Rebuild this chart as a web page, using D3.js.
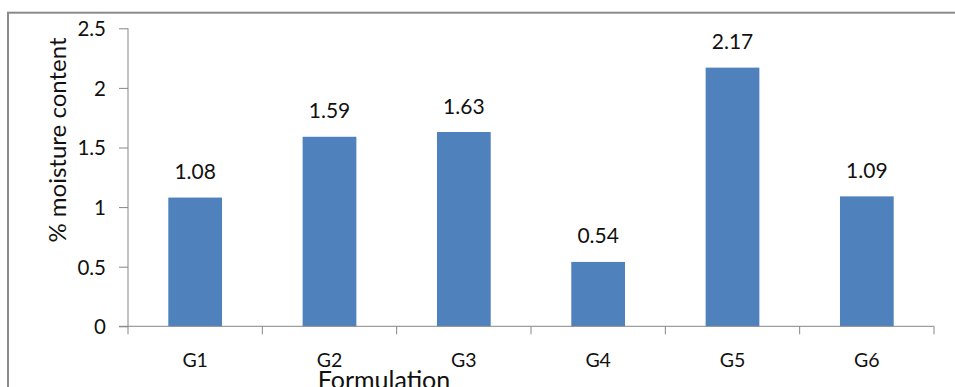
<!DOCTYPE html>
<html>
<head>
<meta charset="utf-8">
<script src="https://cdn.jsdelivr.net/npm/d3@7"></script>
<style>
  html, body { margin: 0; padding: 0; background: #fff; overflow: hidden; }
  svg { display: block; font-family: Lato, "Open Sans", sans-serif; }
</style>
</head>
<body>
<svg id="chart" width="955" height="387"></svg>
<script>
// Moisture content by formulation
const categories = ["G1", "G2", "G3", "G4", "G5", "G6"];
const moisture = [1.08, 1.59, 1.63, 0.54, 2.17, 1.09];
const yTicks = [0, 0.5, 1, 1.5, 2, 2.5];

const svg = d3.select("#chart");
const W = 955, H = 387;
const plot = { left: 128, right: 934, top: 28.3, bottom: 326.3 };

// Outer chart frame (runs off the right and bottom edges)
svg.append("rect")
  .attr("x", 8).attr("y", 12.7)
  .attr("width", W).attr("height", H)
  .attr("fill", "none")
  .attr("stroke", "#8a8a8a")
  .attr("stroke-width", 2);

const x = d3.scaleBand()
  .domain(categories)
  .range([plot.left, plot.right])
  .paddingInner(0.6)
  .paddingOuter(0.3);

const y = d3.scaleLinear()
  .domain([0, 2.5])
  .range([plot.bottom, plot.top]);

// Bars
svg.append("g").selectAll("rect")
  .data(categories)
  .join("rect")
  .attr("x", d => x(d))
  .attr("y", (d, i) => y(moisture[i]))
  .attr("width", x.bandwidth())
  .attr("height", (d, i) => y(0) - y(moisture[i]))
  .attr("fill", "#4f81bd");

// Value labels
svg.append("g").selectAll("text")
  .data(categories)
  .join("text")
  .attr("x", d => x(d) + x.bandwidth() / 2)
  .attr("y", (d, i) => y(moisture[i]) - 18.5)
  .attr("text-anchor", "middle")
  .attr("font-size", 21)
  .attr("fill", "#111")
  .text((d, i) => moisture[i]);

// Y axis
const yAxis = svg.append("g")
  .attr("transform", `translate(${plot.left},0)`)
  .call(d3.axisLeft(y).tickValues(yTicks).tickSize(9).tickPadding(13)
    .tickFormat(d3.format("")));
yAxis.selectAll("line, path").attr("stroke", "#868686").attr("stroke-width", 1);
yAxis.select("path").attr("d", `M0,${plot.top}V${plot.bottom}`);
yAxis.selectAll("text")
  .attr("font-size", 20.5)
  .attr("font-family", "Lato, 'Open Sans', sans-serif")
  .attr("fill", "#111")
  .attr("dy", "0.36em");

// X axis with ticks on category boundaries
const xg = svg.append("g");
xg.append("line")
  .attr("x1", plot.left - 9).attr("x2", plot.right)
  .attr("y1", plot.bottom).attr("y2", plot.bottom)
  .attr("stroke", "#868686");
const step = (plot.right - plot.left) / categories.length;
xg.selectAll("line.tick")
  .data(d3.range(categories.length + 1))
  .join("line")
  .attr("class", "tick")
  .attr("x1", i => plot.left + i * step).attr("x2", i => plot.left + i * step)
  .attr("y1", plot.bottom).attr("y2", plot.bottom + 8)
  .attr("stroke", "#868686");
xg.selectAll("text")
  .data(categories)
  .join("text")
  .attr("x", d => x(d) + x.bandwidth() / 2)
  .attr("y", 366.5)
  .attr("text-anchor", "middle")
  .attr("font-size", 19.5)
  .attr("fill", "#111")
  .text(d => d);

// Axis titles
svg.append("text")
  .attr("transform", "translate(66,140) rotate(-90)")
  .attr("text-anchor", "middle")
  .attr("font-size", 24)
  .attr("fill", "#111")
  .text("% moisture content");

svg.append("text")
  .attr("x", 384)
  .attr("y", 389)
  .attr("text-anchor", "middle")
  .attr("font-size", 25)
  .attr("fill", "#111")
  .text("Formulation");
</script>
</body>
</html>
